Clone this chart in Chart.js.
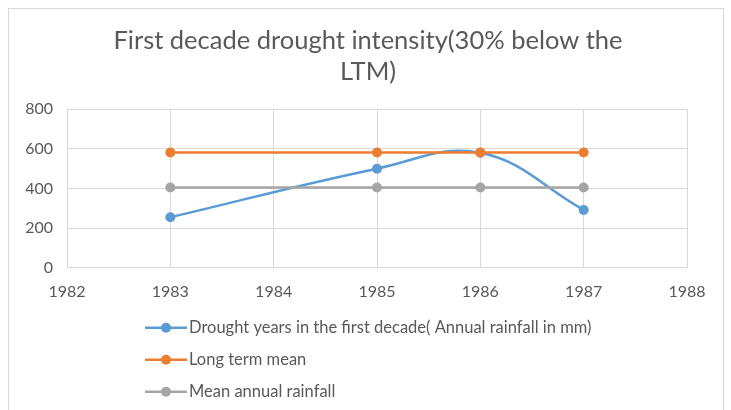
<!DOCTYPE html>
<html>
<head>
<meta charset="utf-8">
<script src="https://cdn.jsdelivr.net/npm/chart.js@4"></script>
<style>
  html, body { margin: 0; padding: 0; background: #fff; }
  #wrap { position: relative; width: 731px; height: 410px; }
  #frame { position: absolute; left: 8px; top: 8px; width: 714px; height: 410px; border: 1px solid #d9d9d9; }
  canvas { position: absolute; left: 0; top: 0; }
</style>
</head>
<body>
<div id="wrap">
  <div id="frame"></div>
  <canvas id="chart" width="731" height="410"></canvas>
</div>
<script>
const years = [1983, 1985, 1986, 1987];
const droughtRain = [255, 500, 580, 292];
const longTermMean = [582, 582, 582, 582];
const meanAnnual = [405, 405, 405, 405];
const seriesNames = [
  'Drought years in the first decade( Annual rainfall in mm)',
  'Long term mean',
  'Mean annual rainfall'
];
const seriesColors = ['#5b9bd5', '#ed7d31', '#a5a5a5'];
const xMin = 1982, xMax = 1988;
const yMax = 800, yStep = 200;

const FONT = 'Lato, "Open Sans", sans-serif';
const TEXT = '#595959';

function points(vals) {
  return vals.map((v, i) => ({ x: years[i], y: v }));
}

// legend in one column under the plot, like the Excel one
const columnLegend = {
  id: 'columnLegend',
  afterDraw(chart) {
    const ctx = chart.ctx;
    const top = chart.chartArea.bottom + 60;
    const left = 145;
    ctx.save();
    ctx.font = '16.5px ' + FONT;
    ctx.textBaseline = 'middle';
    chart.data.datasets.forEach((ds, i) => {
      const y = top + i * 32;
      ctx.strokeStyle = ds.borderColor;
      ctx.lineWidth = 2.5;
      ctx.beginPath();
      ctx.moveTo(left, y);
      ctx.lineTo(left + 42, y);
      ctx.stroke();
      ctx.fillStyle = ds.borderColor;
      ctx.beginPath();
      ctx.arc(left + 21, y, 5, 0, Math.PI * 2);
      ctx.fill();
      ctx.fillStyle = TEXT;
      ctx.fillText(ds.label, left + 44, y);
    });
    ctx.restore();
  }
};

new Chart(document.getElementById('chart'), {
  type: 'line',
  data: {
    datasets: [
      { label: seriesNames[0], data: points(droughtRain), borderColor: seriesColors[0], backgroundColor: seriesColors[0], tension: 0.4, order: 2 },
      { label: seriesNames[1], data: points(longTermMean), borderColor: seriesColors[1], backgroundColor: seriesColors[1], tension: 0, order: 0 },
      { label: seriesNames[2], data: points(meanAnnual), borderColor: seriesColors[2], backgroundColor: seriesColors[2], tension: 0, order: 1 }
    ]
  },
  options: {
    responsive: false,
    animation: false,
    events: [],
    elements: {
      line: { borderWidth: 2.5 },
      point: { radius: 5, borderWidth: 0 }
    },
    layout: { padding: { left: 10, right: 5, top: 0, bottom: 95 } },
    plugins: {
      legend: { display: false },
      tooltip: { enabled: false },
      title: {
        display: true,
        text: ['First decade drought intensity(30% below the', 'LTM)'],
        color: TEXT,
        font: { family: FONT, size: 25.5, weight: 'normal', lineHeight: 1.22 },
        padding: { top: 25, bottom: 22 }
      }
    },
    scales: {
      x: {
        type: 'linear',
        min: xMin,
        max: xMax,
        grid: { color: '#d9d9d9', drawTicks: false },
        border: { color: '#d9d9d9' },
        ticks: {
          stepSize: 1,
          padding: 14,
          color: TEXT,
          font: { family: FONT, size: 16 },
          callback: v => String(v)
        }
      },
      y: {
        min: 0,
        max: yMax,
        grid: { color: '#d9d9d9', drawTicks: false },
        border: { display: false },
        ticks: {
          stepSize: yStep,
          padding: 14,
          color: TEXT,
          font: { family: FONT, size: 16 }
        },
        afterFit(axis) { axis.width = 57; }
      },
      // empty spacer on the right so the title centres where Excel put it
      spacer: {
        position: 'right',
        min: 0,
        max: 1,
        grid: { display: false },
        border: { display: false },
        ticks: { display: false },
        afterFit(axis) { axis.width = 39; }
      }
    }
  },
  plugins: [columnLegend]
});
</script>
</body>
</html>
